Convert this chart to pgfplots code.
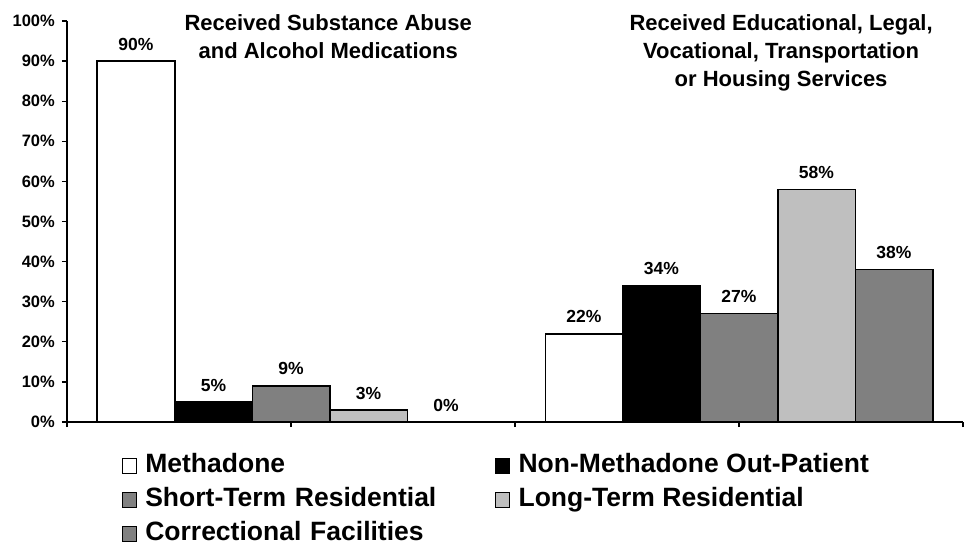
\documentclass[border=0pt]{standalone}
\usepackage{fontspec}
\setmainfont{Liberation Sans}
\usepackage{pgfplots}
\usepackage{pgfplotstable}
\pgfplotsset{compat=1.18}

\definecolor{midgray}{gray}{0.5}
\definecolor{lightgray}{gray}{0.75}

% share of clients receiving each service, by treatment modality
\pgfplotstableread{
grp  meth  nonmeth  short  long  corr
0.5  90    5        9      3     0
1.5  22    34       27     58    38
}\services

\begin{document}
\begin{tikzpicture}
\useasboundingbox (-67bp,-124bp) rectangle (900bp,422bp);
\begin{axis}[
  at={(0bp,0bp)}, anchor=south west,
  scale only axis, width=896bp, height=401bp,
  xmin=0, xmax=2, ymin=0, ymax=100,
  ybar=0pt, bar width=77.5bp,
  axis x line*=bottom, axis y line*=left,
  axis line style={line width=1.2bp, -},
  xtick={0,0.5,1,1.5,2}, xticklabels={},
  ytick={0,10,...,100},
  tick align=outside, major tick length=5bp,
  tick style={line width=1.2bp, black},
  /pgf/number format/assume math mode=true,
  yticklabel={\pgfmathprintnumber{\tick}\%},
  yticklabel style={font=\fontsize{16.5bp}{19bp}\selectfont\bfseries, inner sep=0pt, xshift=-7bp},
  nodes near coords={\pgfmathprintnumber{\pgfplotspointmeta}\%},
  every node near coord/.append style={font=\fontsize{17.5bp}{20bp}\selectfont\bfseries, inner sep=0pt, anchor=south, yshift=10bp, black},
  legend columns=2,
  legend cell align=left,
  legend style={at={(rel axis cs:0.0614,-0.0773)}, anchor=north west,
    draw=none, fill=none, inner sep=0pt, outer sep=0pt, row sep=9bp,
    font=\fontsize{26.5bp}{30bp}\selectfont\bfseries,
    nodes={inner sep=0pt, text height=19bp, text depth=6bp},
    /tikz/every odd column/.append style={column sep=9bp},
    /tikz/column 2/.append style={nodes={text width=350bp, align=left}}},
  every axis plot post/.append style={
    legend image code/.code={\draw[##1, line width=0.8bp] (0bp,-7.5bp) rectangle (13.5bp,7.5bp);}},
  clip=false,
]
\addplot[fill=white, draw=black, line width=1.5bp] table[x=grp, y=meth] {\services};
\addplot[fill=black, draw=black, line width=1.5bp] table[x=grp, y=nonmeth] {\services};
\addplot[fill=midgray, draw=black, line width=1.5bp] table[x=grp, y=short] {\services};
\addplot[fill=lightgray, draw=black, line width=1.5bp] table[x=grp, y=long] {\services};
\addplot[fill=midgray, draw=black, line width=1.5bp] table[x=grp, y=corr] {\services};
\legend{Methadone, Non-Methadone Out-Patient, Short-Term Residential, Long-Term Residential, Correctional Facilities}

\node[align=center, anchor=north, inner sep=0pt, yshift=7bp,
  font=\fontsize{22bp}{28bp}\selectfont\bfseries] at (axis cs:0.583,100)
  {Received Substance Abuse\\and Alcohol Medications};
\node[align=center, anchor=north, inner sep=0pt, yshift=7bp,
  font=\fontsize{22bp}{28bp}\selectfont\bfseries] at (axis cs:1.594,100)
  {Received Educational, Legal,\\Vocational, Transportation\\or Housing Services};
\end{axis}
\end{tikzpicture}
\end{document}
